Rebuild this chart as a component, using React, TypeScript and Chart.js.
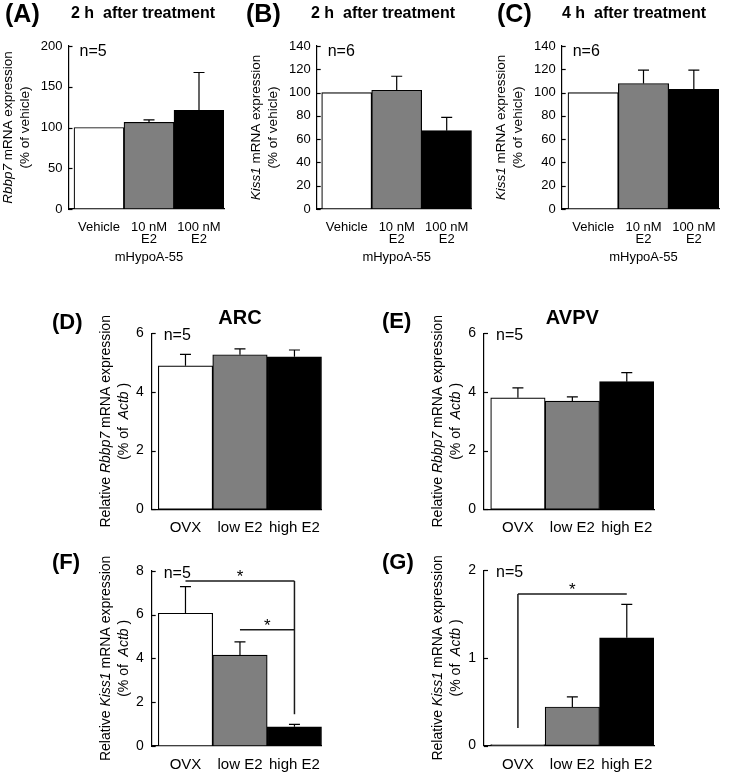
import React, { useEffect, useRef } from "react";
import { Chart, registerables } from "chart.js";

Chart.register(...registerables);

const FONT = "'Liberation Sans', Arial, Helvetica, sans-serif";

// ---------- data ----------
const cellLabels: (string | string[])[] = ["Vehicle", ["10 nM", "E2"], ["100 nM", "E2"]];
const groupLabels: string[] = ["OVX", "low E2", "high E2"];
const barColors = ["#ffffff", "#7f7f7f", "#000000"];
const cellLineName = "mHypoA-55";

const aValues = [100, 106.4, 121];
const aErrors = [0, 3, 46.5];
const bValues = [100, 102, 67.3];
const bErrors = [0, 12, 11.4];
const cValues = [100, 107.8, 102.7];
const cErrors = [0, 11.4, 16.5];
const dValues = [4.89, 5.27, 5.2];
const dErrors = [0.39, 0.2, 0.23];
const eValues = [3.8, 3.69, 4.35];
const eErrors = [0.34, 0.14, 0.31];
const fValues = [6.06, 4.15, 0.88];
const fErrors = [1.21, 0.6, 0.11];
const gValues = [0.01, 0.44, 1.23];
const gErrors = [0, 0.115, 0.38];

// significance brackets (value units)
const fBrackets = [
  { from: 0, to: 2, level: 7.53 },
  { from: 1, to: 2, level: 5.3 },
];
const fDrops = [{ at: 2, top: 7.53, bottom: 1.45 }];
const gBrackets = [{ from: 0, to: 2, level: 1.73 }];
const gDrops = [{ at: 0, top: 1.73, bottom: 0.2 }];

type Seg = { t: string; i?: boolean };
type Bracket = { from: number; to: number; level: number };
type Drop = { at: number; top: number; bottom: number };

interface Spec {
  id: string;
  box: [number, number, number, number];
  area: [number, number, number, number];
  lead: number;
  yMax: number;
  yStep: number;
  values: number[];
  errors: number[];
  xLabels: (string | string[])[];
  tickSize: number;
  labelSize: number;
  labelLH: number;
  xPad: number;
  yPad: number;
  letter: string;
  letterXY: [number, number];
  letterSize: number;
  title: string;
  titleXY: [number, number];
  titleSize: number;
  titleCentered: boolean;
  yTitle: Seg[][];
  yTitleDX: [number, number];
  yTitleSize: number;
  nText: string;
  nDX: number;
  nDY: number;
  group?: string;
  groupY?: number;
  brackets?: Bracket[];
  drops?: Drop[];
}

const topCommon = {
  yStep: 20,
  xLabels: cellLabels,
  tickSize: 13,
  labelSize: 13,
  labelLH: 0.88,
  xPad: 13,
  yPad: 6,
  letterSize: 25,
  titleSize: 16,
  titleCentered: false,
  yTitleDX: [-60, -43] as [number, number],
  yTitleSize: 13.5,
  nDX: 11,
  nDY: 5.5,
  group: cellLineName,
  groupY: 257,
};

const bottomCommon = {
  xLabels: groupLabels,
  tickSize: 14,
  labelSize: 15,
  labelLH: 1.2,
  xPad: 10,
  yPad: 8,
  letterSize: 22,
  titleSize: 20,
  titleCentered: true,
  yTitleDX: [-46, -28] as [number, number],
  yTitleSize: 14,
  nDX: 12,
  nDY: 2.5,
  nText: "n=5",
};

const specs: Spec[] = [
  {
    ...topCommon,
    id: "A",
    box: [0, 0, 245, 270],
    area: [68.5, 46, 224, 209],
    lead: 0.11,
    yMax: 200,
    yStep: 50,
    values: aValues,
    errors: aErrors,
    letter: "(A)",
    letterXY: [5, 15],
    title: "2 h  after treatment",
    titleXY: [71, 14],
    yTitle: [[{ t: "Rbbp7", i: true }, { t: " mRNA expression" }], [{ t: "(% of vehicle)" }]],
    nText: "n=5",
  },
  {
    ...topCommon,
    id: "B",
    box: [245, 0, 245, 270],
    area: [316.7, 46, 471.7, 209],
    lead: 0.1,
    yMax: 140,
    values: bValues,
    errors: bErrors,
    letter: "(B)",
    letterXY: [246, 15],
    title: "2 h  after treatment",
    titleXY: [311, 14],
    yTitle: [[{ t: "Kiss1", i: true }, { t: " mRNA expression" }], [{ t: "(% of vehicle)" }]],
    nText: "n=6",
  },
  {
    ...topCommon,
    id: "C",
    box: [490, 0, 246, 270],
    area: [561.7, 46, 719, 209],
    lead: 0.125,
    yMax: 140,
    values: cValues,
    errors: cErrors,
    letter: "(C)",
    letterXY: [497, 15],
    title: "4 h  after treatment",
    titleXY: [562, 14],
    yTitle: [[{ t: "Kiss1", i: true }, { t: " mRNA expression" }], [{ t: "(% of vehicle)" }]],
    nText: "n=6",
  },
  {
    ...bottomCommon,
    id: "D",
    box: [0, 270, 370, 270],
    area: [151.7, 333.3, 321.7, 509.3],
    lead: 0.12,
    yMax: 6,
    yStep: 2,
    values: dValues,
    errors: dErrors,
    letter: "(D)",
    letterXY: [52, 322.5],
    title: "ARC",
    titleXY: [0, 318],
    yTitle: [
      [{ t: "Relative " }, { t: "Rbbp7", i: true }, { t: " mRNA expression" }],
      [{ t: "(% of  " }, { t: "Actb", i: true }, { t: " )" }],
    ],
  },
  {
    ...bottomCommon,
    id: "E",
    box: [370, 270, 366, 270],
    area: [484, 333.3, 654, 509.3],
    lead: 0.123,
    yMax: 6,
    yStep: 2,
    values: eValues,
    errors: eErrors,
    letter: "(E)",
    letterXY: [382, 322],
    title: "AVPV",
    titleXY: [0, 318],
    yTitle: [
      [{ t: "Relative " }, { t: "Rbbp7", i: true }, { t: " mRNA expression" }],
      [{ t: "(% of  " }, { t: "Actb", i: true }, { t: " )" }],
    ],
  },
  {
    ...bottomCommon,
    id: "F",
    box: [0, 540, 370, 235],
    area: [151.7, 570.7, 321.7, 746],
    lead: 0.12,
    yMax: 8,
    yStep: 2,
    values: fValues,
    errors: fErrors,
    letter: "(F)",
    letterXY: [52, 563],
    title: "",
    titleXY: [0, 0],
    yTitle: [
      [{ t: "Relative " }, { t: "Kiss1", i: true }, { t: " mRNA expression" }],
      [{ t: "(% of  " }, { t: "Actb", i: true }, { t: " )" }],
    ],
    brackets: fBrackets,
    drops: fDrops,
  },
  {
    ...bottomCommon,
    id: "G",
    box: [370, 540, 366, 235],
    area: [484, 570.3, 654, 745.5],
    lead: 0.123,
    yMax: 2,
    yStep: 1,
    values: gValues,
    errors: gErrors,
    letter: "(G)",
    letterXY: [382, 562.5],
    title: "",
    titleXY: [0, 0],
    yTitle: [
      [{ t: "Relative " }, { t: "Kiss1", i: true }, { t: " mRNA expression" }],
      [{ t: "(% of  " }, { t: "Actb", i: true }, { t: " )" }],
    ],
    brackets: gBrackets,
    drops: gDrops,
  },
];

function drawText(ctx: CanvasRenderingContext2D, s: string, x: number, y: number, font: string, align: CanvasTextAlign = "left") {
  ctx.font = font;
  ctx.textAlign = align;
  ctx.textBaseline = "middle";
  ctx.fillStyle = "#000";
  ctx.fillText(s, x, y);
}

function drawRotated(ctx: CanvasRenderingContext2D, segs: Seg[], cx: number, cy: number, size: number) {
  ctx.save();
  ctx.translate(cx, cy);
  ctx.rotate(-Math.PI / 2);
  const fonts = segs.map((sg) => `${sg.i ? "italic " : ""}${size}px ${FONT}`);
  let total = 0;
  const widths = segs.map((sg, k) => {
    ctx.font = fonts[k];
    const w = ctx.measureText(sg.t).width;
    total += w;
    return w;
  });
  let x = -total / 2;
  ctx.textBaseline = "middle";
  ctx.textAlign = "left";
  ctx.fillStyle = "#000";
  segs.forEach((sg, k) => {
    ctx.font = fonts[k];
    ctx.fillText(sg.t, x, 0);
    x += widths[k];
  });
  ctx.restore();
}

function drawStar(ctx: CanvasRenderingContext2D, cx: number, cy: number) {
  ctx.font = `17px ${FONT}`;
  ctx.textAlign = "center";
  ctx.textBaseline = "alphabetic";
  ctx.fillStyle = "#000";
  const m = ctx.measureText("*");
  const base = cy + (m.actualBoundingBoxAscent - m.actualBoundingBoxDescent) / 2;
  ctx.fillText("*", cx, base);
}

function makePlugin(s: Spec) {
  return {
    id: "panel" + s.id,
    afterDatasetsDraw(chart: any) {
      const ctx: CanvasRenderingContext2D = chart.ctx;
      const xs = chart.scales.x;
      const ys = chart.scales.y;
      const ca = chart.chartArea;
      const ox = s.box[0];
      const oy = s.box[1];
      ctx.save();
      // error bars
      ctx.strokeStyle = "#000";
      ctx.lineWidth = 1.2;
      s.values.forEach((v, i) => {
        const e = s.errors[i];
        if (!e) return;
        const x = xs.getPixelForValue(i);
        const y0 = ys.getPixelForValue(v);
        const y1 = ys.getPixelForValue(v + e);
        ctx.beginPath();
        ctx.moveTo(x, y0);
        ctx.lineTo(x, y1);
        ctx.moveTo(x - 5.5, y1);
        ctx.lineTo(x + 5.5, y1);
        ctx.stroke();
      });
      // inward tick marks
      ys.ticks.forEach((t: any) => {
        const y = Math.round(ys.getPixelForValue(t.value)) + 0.5;
        ctx.beginPath();
        ctx.moveTo(ca.left, y);
        ctx.lineTo(ca.left + 4, y);
        ctx.stroke();
      });
      // brackets
      ctx.lineWidth = 1.5;
      ctx.strokeStyle = "#1a1a1a";
      (s.brackets || []).forEach((b) => {
        const x1 = xs.getPixelForValue(b.from);
        const x2 = xs.getPixelForValue(b.to);
        const y = ys.getPixelForValue(b.level);
        ctx.beginPath();
        ctx.moveTo(x1, y);
        ctx.lineTo(x2, y);
        ctx.stroke();
        drawStar(ctx, (x1 + x2) / 2, y - 8);
      });
      (s.drops || []).forEach((d) => {
        const x = xs.getPixelForValue(d.at);
        ctx.beginPath();
        ctx.moveTo(x, ys.getPixelForValue(d.top));
        ctx.lineTo(x, ys.getPixelForValue(d.bottom));
        ctx.stroke();
      });
      // letter & title
      drawText(ctx, s.letter, s.letterXY[0] - ox, s.letterXY[1] - oy, `bold ${s.letterSize}px ${FONT}`);
      if (s.title) {
        if (s.titleCentered) {
          drawText(ctx, s.title, xs.getPixelForValue(1), s.titleXY[1] - oy, `bold ${s.titleSize}px ${FONT}`, "center");
        } else {
          drawText(ctx, s.title, s.titleXY[0] - ox, s.titleXY[1] - oy, `bold ${s.titleSize}px ${FONT}`);
        }
      }
      // n label
      drawText(ctx, s.nText, ca.left + s.nDX, ca.top + s.nDY, `16px ${FONT}`);
      // y titles
      const cy = (ca.top + ca.bottom) / 2;
      drawRotated(ctx, s.yTitle[0], ca.left + s.yTitleDX[0], cy, s.yTitleSize);
      drawRotated(ctx, s.yTitle[1], ca.left + s.yTitleDX[1], cy, s.yTitleSize);
      // group label
      if (s.group) {
        drawText(ctx, s.group, xs.getPixelForValue(1), (s.groupY as number) - oy, `13px ${FONT}`, "center");
      }
      ctx.restore();
    },
  };
}

function Panel({ spec }: { spec: Spec }) {
  const ref = useRef<HTMLCanvasElement | null>(null);
  useEffect(() => {
    const canvas = ref.current;
    if (!canvas) return;
    const [bx, by, bw, bh] = spec.box;
    const [al, at, ar, ab] = spec.area;
    const chart = new Chart(canvas, {
      type: "bar",
      data: {
        datasets: [
          {
            data: spec.values.map((v, i) => ({ x: i, y: v })),
            backgroundColor: barColors,
            borderColor: "#000",
            borderWidth: 1.2,
            borderSkipped: false,
            barPercentage: 1,
            categoryPercentage: 1,
          } as any,
        ],
      },
      options: {
        animation: false,
        responsive: false,
        maintainAspectRatio: false,
        events: [],
        layout: { padding: { left: 0, top: at - by, right: bx + bw - ar, bottom: 0 } },
        plugins: { legend: { display: false }, tooltip: { enabled: false }, title: { display: false } },
        scales: {
          x: {
            type: "linear",
            min: -0.5 - spec.lead,
            max: 2.5,
            offset: false,
            grid: { display: false, drawTicks: false },
            border: { display: true, color: "#000", width: 1.2 },
            afterBuildTicks: (sc: any) => {
              sc.ticks = spec.xLabels.map((_, i) => ({ value: i }));
            },
            afterFit: (sc: any) => {
              sc.height = by + bh - ab;
            },
            ticks: {
              autoSkip: false,
              maxRotation: 0,
              minRotation: 0,
              padding: spec.xPad,
              color: "#000",
              font: { family: FONT, size: spec.labelSize, lineHeight: spec.labelLH },
              callback: (v: any) => spec.xLabels[Math.round(Number(v))] as any,
            },
          },
          y: {
            min: 0,
            max: spec.yMax,
            grid: { display: false, drawTicks: false },
            border: { display: true, color: "#000", width: 1.2 },
            afterFit: (sc: any) => {
              sc.width = al - bx;
            },
            ticks: {
              stepSize: spec.yStep,
              padding: spec.yPad,
              color: "#000",
              font: { family: FONT, size: spec.tickSize },
            },
          },
        },
      } as any,
      plugins: [makePlugin(spec) as any],
    });
    return () => chart.destroy();
  }, [spec]);
  const [bx, by, bw, bh] = spec.box;
  return (
    <canvas
      ref={ref}
      width={bw}
      height={bh}
      style={{ position: "absolute", left: bx, top: by, width: bw, height: bh, display: "block" }}
    />
  );
}

export default function App() {
  return (
    <div style={{ position: "absolute", left: 0, top: 0, width: 736, height: 775, background: "#fff", overflow: "hidden" }}>
      {specs.map((s) => (
        <Panel key={s.id} spec={s} />
      ))}
    </div>
  );
}
